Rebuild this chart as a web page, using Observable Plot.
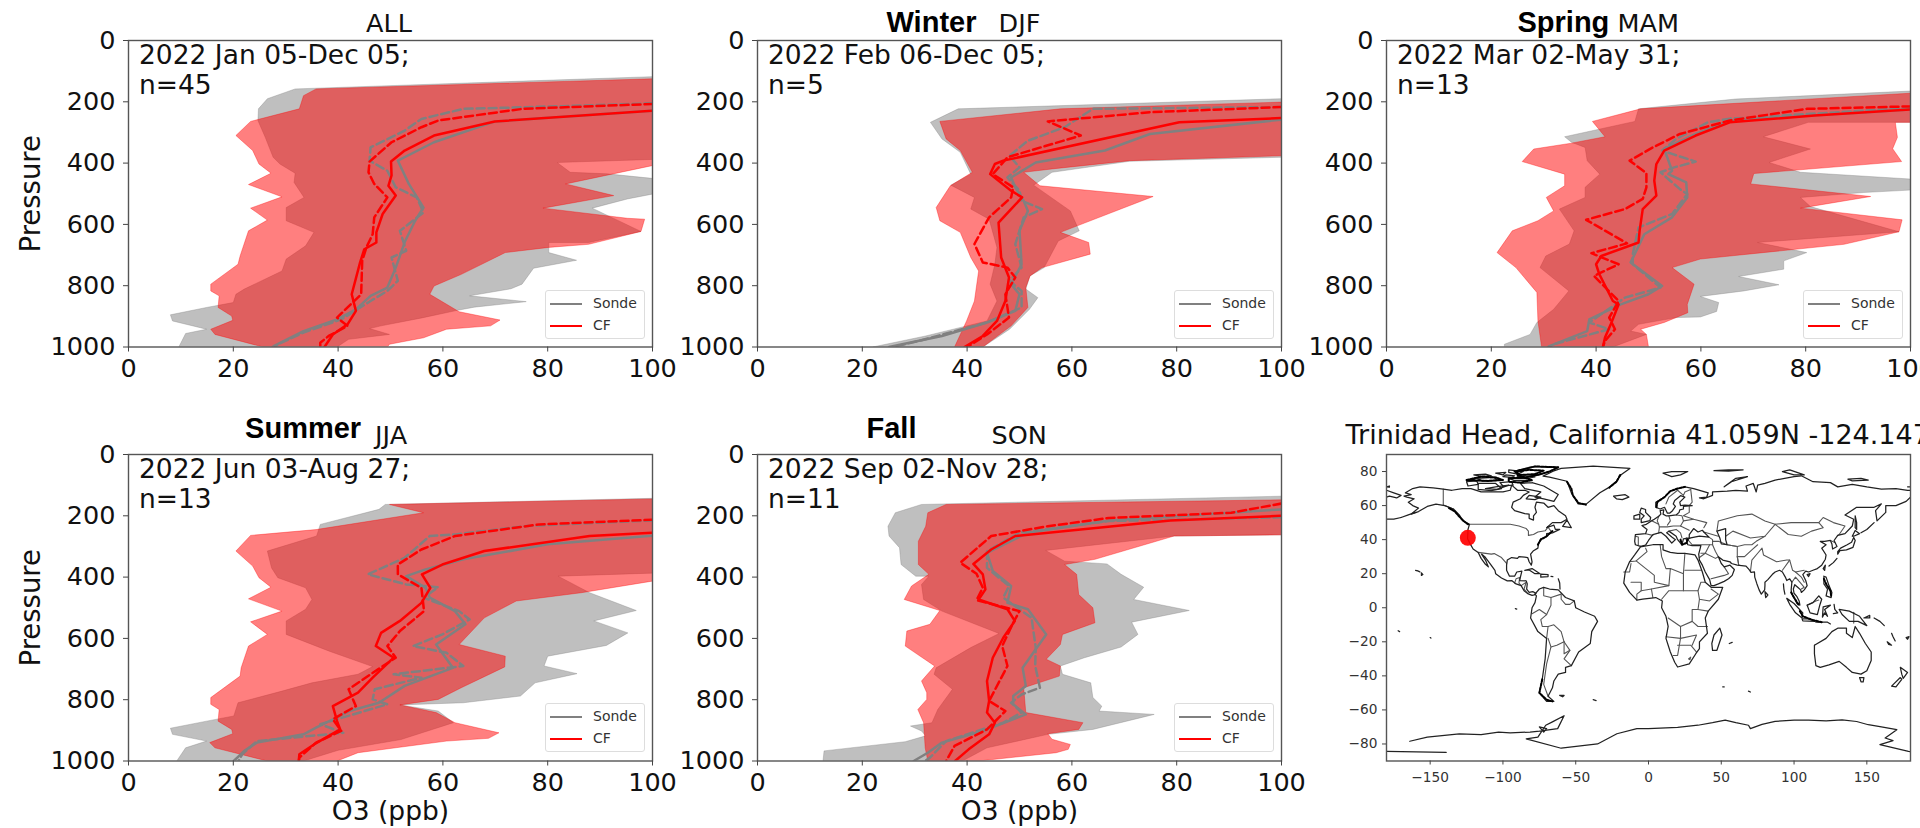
<!DOCTYPE html>
<html>
<head>
<meta charset="utf-8">
<script src="https://cdn.jsdelivr.net/npm/d3@7"></script>
<script src="https://cdn.jsdelivr.net/npm/@observablehq/plot@0.6"></script>
<style>
html,body{margin:0;padding:0;background:#fff;width:1920px;height:828px;overflow:hidden;color:#111}
#page{position:relative;width:1920px;height:828px;overflow:hidden;font-family:"DejaVu Sans",sans-serif}
#page svg{position:absolute;overflow:visible;background:transparent}
.legend{position:absolute;width:98px;height:47px;border:1px solid #ddd;border-radius:3px;background:rgba(255,255,255,.8);font-size:14px;color:#333}
.legend i{position:absolute;left:4px;width:32px;height:2px}
.legend span{position:absolute;left:47px}
</style>
</head>
<body>
<div id="page"></div>
<script>
const xTicks=[0,20,40,60,80,100], yTicks=[0,200,400,600,800,1000];
const seriesNames=["Sonde","CF"];

// ALL
const allSondeLeft=[[100,118],[31.8,158],[26.5,190],[24.8,223],[24.7,261],[26.1,316],[27.6,381],[28.9,403],[31.8,433],[31.6,463],[33.5,512],[30.1,545],[30.1,588],[35.4,626],[33.8,670],[30.1,713],[29.3,752],[22.1,811],[20.5,828],[20,855],[14.9,871],[8,895],[8.4,915],[14.9,942],[10.9,956],[9.6,1000]];
const allSondeRight=[[100,118],[100,388],[81.8,398],[84.3,430],[91.3,435],[100,450],[100,501],[95.2,517],[88.5,547],[97.8,623],[87.8,659],[80.2,659],[80.2,692],[85.5,717],[77.3,743],[75.1,795],[73,810],[65.1,833],[75.9,852],[66,870],[62.3,882],[56,905],[48.2,931],[46,940],[49.8,959],[42,975],[39.8,1000]];
const allCfLeft=[[100,125],[35.8,158],[33.4,180],[32.6,223],[23.3,264],[20.5,310],[23.7,359],[24.9,403],[27.2,433],[22.9,470],[29.3,510],[23.3,547],[26.5,586],[22.9,621],[21.3,703],[20.9,730],[15.7,795],[15.7,817],[17.3,833],[17.1,871],[19.7,899],[19.9,913],[15.7,942],[16.5,959],[25.7,1000]];
const allCfRight=[[100,125],[100,408],[83.4,468],[92.6,506],[79.1,547],[95.2,580],[98.5,583],[97.8,623],[87.8,665],[80.2,675],[71.9,692],[63.5,763],[58.3,801],[57.5,828],[63.1,885],[70.9,912],[69.1,931],[60.7,942],[56.3,970],[49.8,991],[49.4,1000]];
const allCfMean=[[100,229],[69.9,264],[58.3,310],[52.7,359],[50.1,395],[50.2,440],[49.6,474],[51,506],[48.5,566],[47.3,626],[47.3,659],[45,681],[44.2,724],[42.6,828],[43.4,882],[41.8,926],[39,959],[37.4,1000]];
const allCfMedian=[[100,207],[75.2,223],[59.1,261],[55.9,283],[50.2,332],[46,395],[45.8,430],[46.9,468],[49.4,512],[46.9,577],[46.6,632],[45.4,675],[44.6,719],[44.4,828],[39.8,904],[41.8,931],[38.2,964],[36.6,986],[36.6,1000]];
const allSondeMean=[[100,229],[70,264],[58.3,332],[51.4,392],[53.5,468],[56.3,545],[54.7,588],[52.8,654],[51,741],[49.4,806],[46.2,833],[43.4,877],[39.8,910],[33.4,948],[27.7,997],[27.5,1000]];
const allSondeMedian=[[100,205],[75,218],[63.9,223],[55.9,256],[52.7,294],[46.2,349],[46,392],[49.4,425],[51,479],[55,512],[56.3,561],[51.8,621],[53,686],[50.2,708],[51.4,784],[49.4,817],[46.2,850],[40.6,910],[33.4,953],[28.5,991],[28,1000]];

// Winter
const djfSondeLeft=[[100,190],[38.3,223],[33,267],[35.2,321],[38.7,365],[40.7,436],[36.9,472],[41.4,512],[40.7,550],[44.2,583],[45.7,675],[45.3,730],[44.4,795],[45.7,850],[43.8,915],[32.1,964],[22,1000]];
const djfSondeRight=[[100,190],[100,381],[71,394],[56.2,430],[52.7,472],[59.7,556],[61.4,621],[57.4,654],[54.7,741],[52,768],[51.2,811],[53.5,839],[51.9,877],[48.1,942],[43,1000]];
const djfCfLeft=[[100,201],[57.8,223],[34.8,264],[36,321],[38.7,359],[41,430],[36.8,474],[34.1,545],[34.8,588],[38.7,626],[40.7,708],[42.2,752],[41.4,850],[39.9,915],[37.6,1000]];
const djfCfRight=[[100,201],[100,376],[71,392],[56.2,419],[50.8,430],[53.9,474],[75.5,509],[57.8,626],[63.2,659],[63.5,697],[54.3,741],[52,768],[51.2,806],[51.6,871],[48.4,931],[43,1000]];
const djfCfMean=[[100,253],[80.5,267],[46.9,392],[45.3,403],[44.4,436],[48.4,490],[50.5,512],[48.4,550],[46,594],[46.5,708],[48,773],[47.3,850],[45.7,915],[43,964],[39.5,1000]];
const djfCfMedian=[[100,217],[74.9,234],[55.4,264],[61.7,310],[47.7,381],[44.9,436],[48.8,479],[48.4,512],[44.2,577],[41.4,664],[43,724],[47.7,741],[49.2,773],[47.3,828],[48,904],[43.8,959],[40.3,997],[40,1000]];
const djfSondeMean=[[100,258],[74.9,305],[66.3,359],[53.1,398],[48.4,447],[49.2,479],[50.8,523],[51.6,556],[50,621],[50.4,730],[48.4,795],[50,828],[49.2,882],[43.8,920],[35.2,964],[25.1,1000]];
const djfSondeMedian=[[100,217],[64,223],[58.6,283],[51.6,327],[48.1,376],[50,414],[47.7,447],[50,490],[50.4,523],[54.3,550],[50.8,577],[49.2,664],[50.4,741],[48.1,784],[50.4,817],[50.4,871],[43.8,920],[31.3,978],[25.9,1000]];

// Spring
const mamSondeLeft=[[100,165],[66.6,191],[48.1,223],[47.4,264],[34,314],[35.3,332],[37.9,349],[38.3,392],[40.7,436],[37.9,479],[37.9,512],[33,550],[35.8,621],[34.9,664],[30.4,703],[29.3,741],[34.8,817],[31.9,877],[28.7,920],[27.4,959],[22.5,991],[22.5,1000]];
const mamSondeRight=[[100,165],[100,267],[80.5,267],[71.9,314],[80.9,354],[73,398],[79,430],[100,452],[100,488],[91,496],[79,512],[80.9,542],[97.8,624],[70.8,659],[80.2,692],[75.8,719],[75.8,746],[67.2,770],[74.9,797],[68.2,817],[59.9,835],[63.4,855],[63,884],[59.9,902],[55.3,904],[48.1,926],[46.6,948],[49.6,959],[43.2,1000]];
const mamCfLeft=[[100,172],[48.5,223],[39.3,264],[41.7,314],[35.3,335],[28.1,354],[25.9,395],[34,436],[34,474],[30.5,512],[31.9,556],[28.9,588],[24,621],[21.1,692],[24.7,741],[28.7,822],[28.9,915],[29.6,1000]];
const mamCfRight=[[100,172],[100,267],[97.1,267],[97.5,316],[96.6,353],[98.3,395],[70.1,434],[69.5,468],[92.4,509],[79,547],[98.4,585],[97.8,624],[87.3,665],[59.9,713],[54.5,741],[58.7,795],[57.4,861],[57.5,888],[53,920],[48.5,942],[49.6,959],[50,1000]];
const mamCfMean=[[100,225],[81.7,245],[65.5,267],[59,310],[53,359],[51.5,403],[51.1,457],[51.5,506],[48.9,550],[48.3,621],[48.1,659],[41,703],[40,730],[40.6,762],[43.2,850],[44.3,861],[42.8,926],[41.7,969],[41.3,1000]];
const mamCfMedian=[[100,215],[80.2,223],[65.5,261],[56,305],[50.8,349],[46.4,392],[49.6,433],[49.6,479],[48.9,517],[45.5,550],[38.1,585],[45.9,662],[39.1,694],[44.3,730],[39.6,768],[44.3,850],[42.5,904],[43.6,942],[41.7,980],[41.3,1000]];
const mamSondeMean=[[100,225],[65.5,261],[59,305],[53,354],[54.5,425],[53.8,436],[57.2,463],[57.4,512],[54.5,577],[49.2,632],[46.6,724],[52.6,801],[50,828],[44.7,861],[38.7,910],[38.3,948],[31.1,997],[30.8,1000]];
const mamSondeMedian=[[100,220],[65.5,255],[61.3,267],[55.3,321],[52.6,359],[54.5,370],[59,395],[54.9,414],[52.3,430],[56,485],[57.4,501],[54.5,566],[48.1,610],[47,697],[47,730],[52.3,806],[45.5,839],[38.7,920],[42.5,942],[31.9,991],[31,1000]];

// Summer
const jjaSondeLeft=[[100,143],[49,163],[47.8,179],[36.6,228],[35.9,266],[26.5,315],[27.3,370],[28.5,402],[33.8,435],[35,473],[33.8,505],[30.1,543],[30.1,587],[38.2,641],[46.6,692],[43.8,717],[35,745],[29.3,772],[20.9,810],[20.1,853],[14.9,870],[8,893],[8.4,913],[14.9,935],[10.9,957],[9.2,1000]];
const jjaSondeRight=[[100,143],[100,387],[82,397],[88,451],[96.9,509],[88.8,543],[95.3,582],[91.2,623],[80,658],[79.3,690],[85.6,715],[77.6,745],[74.8,788],[63.9,810],[51.8,817],[59.1,837],[62,875],[52,930],[40,965],[33.4,1000]];
const jjaCfLeft=[[100,145],[49.8,163],[56.3,190],[35.8,245],[23.3,264],[20.5,315],[23.7,364],[24.9,402],[27.2,433],[22.9,471],[29.3,511],[23.3,546],[26.5,587],[22.9,625],[21.5,696],[21.3,723],[15.7,793],[15.7,815],[17.3,832],[17.1,870],[19.7,897],[19.9,911],[15.5,940],[16.5,957],[26.5,1000]];
const jjaCfRight=[[100,145],[100,413],[86.4,451],[74,478],[67.9,533],[63.1,620],[71.9,658],[71.8,693],[63.5,761],[59.1,799],[51.8,817],[58.7,842],[62.3,875],[70.7,908],[68.7,926],[60.7,935],[43.8,973],[39.8,1000]];
const jjaCfMean=[[100,255],[88,266],[67.9,315],[59.9,359],[56,391],[57.6,435],[55.9,484],[51.8,543],[48.2,582],[47.2,625],[50.6,663],[46.6,728],[43.8,777],[39,821],[39.8,870],[40.4,897],[35.4,946],[32.6,978],[32.5,1000]];
const jjaCfMedian=[[100,213],[78.4,228],[62.3,266],[55.9,310],[51.4,359],[51.4,391],[55.9,435],[56.4,511],[51.8,576],[49.4,625],[51,663],[46.2,717],[42,766],[43.4,821],[39,864],[40.6,902],[35.8,940],[32.6,989],[32.5,1000]];
const jjaSondeMean=[[100,265],[80,293],[63.9,342],[56.7,375],[53,397],[56.7,435],[57.5,467],[62.3,511],[64.3,554],[58.7,620],[61.9,696],[52.7,755],[47.8,810],[42.2,837],[35.8,891],[33.4,913],[24.5,940],[22.1,967],[20.1,1000]];
const jjaSondeMedian=[[100,215],[76,233],[62.3,261],[57.5,266],[52.7,337],[45.7,391],[53,424],[59.1,433],[56.3,467],[63.1,511],[65.1,538],[59.9,587],[54.3,625],[60.7,647],[63.9,690],[50.6,717],[55.9,728],[47,766],[46.6,799],[49.4,815],[36.6,880],[41,908],[24.5,935],[21.7,978],[21,1000]];

// Fall
const sonSondeLeft=[[100,136],[31.3,163],[26.3,190],[24.9,234],[25.1,266],[27.1,304],[27.4,359],[30.2,397],[32.7,397],[31.3,424],[31.7,473],[35.2,511],[46.1,584],[40.7,630],[34.1,696],[33.7,717],[37.2,766],[34.4,832],[33.3,875],[29.2,886],[31.3,902],[32.1,918],[28.2,937],[12.7,967],[12.5,1000]];
const sonSondeRight=[[100,136],[100,262],[79.5,266],[55,313],[58.6,348],[66.7,357],[69.4,391],[73.7,433],[71.8,473],[82.4,509],[71.4,547],[72.6,587],[69.4,628],[62.4,663],[57.8,690],[58.2,717],[63.6,745],[64,793],[65.7,821],[65.2,837],[75.7,848],[64,897],[55.4,913],[43.8,957],[39.1,1000]];
const sonCfLeft=[[100,148],[36,163],[32.5,190],[32.1,234],[30.7,283],[30.7,359],[32.7,391],[29.4,429],[28,473],[34.8,509],[32.9,554],[28.5,576],[28.2,625],[33.8,690],[31.3,739],[32.3,777],[32.3,799],[30.6,832],[31.7,875],[32,957],[32.5,1000]];
const sonCfRight=[[100,148],[100,262],[79.5,266],[64.4,342],[58.6,359],[60.9,391],[61.3,457],[64,500],[64.4,549],[58.2,587],[57.8,620],[55.1,668],[57.8,690],[57.6,723],[50.8,761],[51.2,842],[62.1,875],[61.3,897],[55.4,911],[56.2,929],[59.7,946],[59.3,962],[57,973],[42.2,1000]];
const sonCfMean=[[100,200],[78.8,215],[49.2,266],[44.6,310],[41.2,357],[43,391],[43.5,440],[42.2,473],[47.7,505],[49.1,543],[46.9,598],[44.9,663],[43.8,739],[44.2,804],[43.8,842],[45.3,875],[44.2,913],[40.3,962],[37.7,1000]];
const sonCfMedian=[[100,160],[90.4,190],[67.1,207],[55.4,234],[44.6,266],[38.7,353],[41.8,389],[43,435],[41.8,475],[50,511],[48.8,549],[46.7,625],[47.7,690],[44.2,804],[47.3,837],[43.8,897],[37.6,951],[36,1000]];
const sonSondeMean=[[100,179],[67.1,215],[51.6,255],[43.8,321],[44.9,380],[48.4,429],[47.7,484],[51.6,505],[55.1,587],[50.6,696],[51.2,755],[48.8,788],[48.8,815],[51.2,848],[43,902],[35.2,940],[32.5,973],[29.8,1000]];
const sonSondeMedian=[[100,205],[67.1,217],[50,255],[43.8,315],[43.8,370],[48,429],[46.9,467],[52.3,533],[53.1,630],[53,690],[53.9,761],[50.4,783],[48.4,810],[50.4,842],[46.9,875],[36,935],[32.9,989],[32,1000]];

// Map site
const siteLon=[-124.147], siteLat=[41.059];
const mapXTicks=[-150,-100,-50,0,50,100,150], mapYTicks=[-80,-60,-40,-20,0,20,40,60,80];

const coastNorthAmerica=[[-167,67.5],[-162,70],[-157,71],[-148,70.4],[-141,69.7],[-135,69],[-128,70],[-122,70],[-115,68],[-108,68],[-100,68],[-95,69],[-94,72],[-90,69],[-85,69],[-82,68],[-86,66],[-88,64],[-93,62],[-94,59],[-92,57],[-85,55.3],[-82,55],[-82,52.5],[-79,51.5],[-79,54],[-77,56],[-78,59],[-77,62],[-72,61.5],[-69,59],[-65,60],[-62,57],[-57,54],[-56,52],[-60,50],[-66,50],[-70,47],[-65,48.5],[-64,46],[-61,46],[-66,44],[-70,43.5],[-70,41.7],[-74,40.5],[-75.5,38],[-76,35],[-79,33.5],[-81,31.5],[-80,27],[-80.5,25],[-82,27],[-83,29.5],[-85,29.7],[-89,30],[-90,29],[-94,29.5],[-97,28],[-97.5,25],[-97.5,22],[-95.5,18.5],[-92,18.5],[-90.5,21],[-87,21.5],[-88,18],[-88.5,16],[-84,15.8],[-83.3,14],[-83.7,11],[-82,9],[-79.5,9.5],[-77.3,8.5],[-78.5,7.5],[-80,7.3],[-83,8.3],[-85.5,10],[-87.5,13],[-91,14],[-94,16],[-97,15.8],[-101,17.5],[-105,20],[-105.5,22],[-109,26],[-112.5,30],[-114.7,31.5],[-112,28],[-110,24],[-112,25.5],[-115,29],[-117,32.5],[-120.5,34.5],[-122.5,37.5],[-124.3,40.5],[-124,46],[-123,49],[-127.5,51],[-130,54.5],[-134,58],[-140,60],[-146,60.8],[-152,59.5],[-158,56.5],[-163,55],[-158,58.5],[-162,60],[-165,62],[-161,64],[-166,65],[-168,65.6],[-163,66.5],[-167,67.5]];
const coastBaffin=[[-80,73.5],[-72,71.5],[-67,69],[-62,66.5],[-65,62.5],[-72,64],[-78,65],[-74,68],[-85,70],[-88,73],[-80,73.5]];
const coastVictoria=[[-117,73],[-105,73],[-101,70],[-108,68.8],[-117,69.5],[-117,73]];
const coastBanks=[[-125,74],[-118,74.5],[-117,72.5],[-124,71.5],[-125,74]];
const coastEllesmere=[[-90,80.5],[-78,83],[-62,82.5],[-68,80],[-76,78],[-85,76.5],[-90,78],[-90,80.5]];
const coastDevon=[[-96,76],[-82,75.8],[-80,74.6],[-92,74.6],[-96,76]];
const coastMelville=[[-118,76],[-106,76.5],[-104,75],[-114,74.5],[-118,76]];
const coastAxel=[[-96,81],[-86,80],[-90,78.5],[-96,79.5],[-96,81]];
const coastPrinceWales=[[-102,73.5],[-94,74],[-93,72],[-100,71.5],[-102,73.5]];
const coastSomerset=[[-98,78],[-92,77.5],[-94,76.5],[-100,77],[-98,78]];
const coastArctic1=[[-125,75],[-115,77],[-105,76.5],[-100,75],[-110,74.5],[-125,75]];
const coastArctic2=[[-105,79],[-98,79.5],[-100,78],[-105,79]];
const coastArctic3=[[-90,77],[-82,76.2],[-78,76.8],[-85,77.5],[-90,77]];
const coastArctic4=[[-112,70],[-105,71],[-96,72],[-104,69.5],[-112,70]];
const coastArctic5=[[-82,66],[-74,65],[-78,63.5],[-84,64],[-82,66]];
const coastArctic6=[[-120,78],[-112,78.5],[-108,77.5],[-116,77.3],[-120,78]];
const coastGreenland=[[-72.4,77.3],[-65.5,80.2],[-60,81.8],[-38,83.2],[-12.8,81.8],[-18.6,78.3],[-22,74.3],[-27.7,70.4],[-33.4,67.5],[-42.6,61],[-48.3,61],[-53,67.5],[-56,74.3],[-68,76.7],[-72.4,77.3]];
const coastNewfoundland=[[-59,47.8],[-56,51.5],[-53,47],[-59,47.8]];
const coastCuba=[[-85,22],[-80,23],[-74.5,20],[-78,20],[-82,22.2],[-85,22]];
const coastHispaniola=[[-74,19.8],[-69,19.5],[-69,18.3],[-74,18],[-74,19.8]];
const coastPuertoRico=[[-67,18.4],[-65.7,18.3]];
const coastAntilles=[[-62,17],[-61,14.5],[-60.8,11]];
const coastAleutian1=[[-180,52],[-175,52],[-170,53]];
const coastAleutian2=[[-170,53],[-165,54.5],[-160,56]];
const coastSouthAmerica=[[-78,8],[-75,11],[-72,12],[-68,11],[-62,10.5],[-57,6],[-51,4],[-50,0],[-44,-2.5],[-37,-5],[-35,-8],[-39,-14],[-40,-21],[-48,-26],[-53,-34],[-57,-35],[-57,-38],[-62,-39],[-65,-43],[-66,-47],[-69,-52],[-65,-55],[-70,-55],[-75,-50],[-73,-42],[-71,-30],[-70,-18],[-76,-14],[-81,-6],[-80,0],[-78,3],[-77,7],[-78,8]];
const coastFalkland=[[-61,-51.5],[-58,-51.5],[-59,-52.3],[-61,-51.5]];
const coastAfrica=[[-5.5,35.8],[3,37],[10,37],[10,34],[15,32.5],[20,32],[25,32],[32,31],[34,28],[37,21],[39,15],[43,12],[51,12],[48,5],[41,-2],[39,-6],[40.5,-15],[35,-20],[35,-24],[32.5,-27],[28,-33],[20,-34.8],[18,-32],[15,-26],[12,-18],[13.5,-11],[12,-5],[9,0],[9.5,4],[5,6],[-4,5],[-8,4.5],[-13,9],[-17,14.5],[-16,21],[-13,27],[-9.5,31],[-5.5,35.8]];
const coastMadagascar=[[49,-12],[50.5,-16],[47,-25],[44,-25],[43.5,-21],[45,-16],[49,-12]];
const coastEurasia=[[-5.5,36],[-9,37],[-9.5,39],[-9,43],[-2,43.5],[-1,46],[-4.5,48.3],[-1.5,49],[2,51],[4,52],[7,53.7],[8.5,55],[8,57],[10.5,57.5],[10,55],[12,54],[14,54],[19,54.5],[21,56],[21.5,57.5],[24,58],[24,59.5],[30,60],[25,60.2],[22,60],[21.5,62],[25,65],[22,65.8],[18,63],[17,61],[18.5,59.5],[16.5,57],[14.5,55.5],[13,55.5],[11,59],[8,58],[5,59],[5,62],[11,65],[15,68.5],[20,70],[25,71],[31,70],[41,67.5],[40,65],[35,64.5],[38,64],[44,66],[44,68],[54,68.5],[60,69],[68,68.5],[67,71.5],[72,73],[74,68],[75,72],[80,73],[87,75],[100,77],[105,77.5],[113,74],[125,73.5],[130,71],[140,72.5],[150,71],[160,69.7],[170,70],[178,69],[180,69]];
const coastEurasiaEast=[[180,65],[177,62.5],[170,60],[163,60],[163,56],[157,51],[156,57],[160,61],[155,59],[143,59],[135,54.5],[141,52],[140,48],[135,43.5],[130,42.5],[127.5,39.5],[129.5,36],[126.5,34.5],[126,37.5],[125,39.5],[121,39],[118,39],[122,37],[119,35],[122,31],[121.5,28.5],[119,25],[116,23],[113,22],[110,21],[108,21.5],[106,19.5],[108,16],[109,13],[107,10.5],[105,9],[104.5,10.5],[102.5,12],[100.5,13.5],[99.5,11],[100,8.5],[102,6.5],[103.5,4],[104,1.5],[102,2.5],[100.5,5],[98.5,8],[98,10.5],[98.5,15],[97,17],[95,16],[94,18],[92,21],[90,22],[87,21],[85,19.5],[82,16.5],[80,15],[80,13],[79.8,10.5],[77.5,8],[76,10.5],[74.5,14],[73,18],[72.8,21],[70.5,20.8],[69,22.5],[67,24.5],[61,25],[57,26],[56,27],[51,28],[48,30],[50,26],[52,24],[56,25],[59,22.5],[57.5,19],[55,17],[52,15.5],[48,14],[45,13],[43,13],[42,16.5],[39,21],[37,25],[35,28],[34.5,31.5],[36,36.5],[30,36.5],[27,37],[26,40],[29,41],[35,42],[41.5,41.5],[38,44.5],[37,45.5],[34,44.5],[31,46.5],[28,43],[28,41],[24,40.5],[23,37],[20,40],[19,42],[14,45],[12.5,44],[16,41.5],[18.5,40],[16,38],[12,42],[8.5,44.3],[3,43],[0,39.5],[-2,36.8],[-5.5,36]];
const coastChukotka=[[-180,69],[-175,67.5],[-170,66],[-173,64.5],[-178,65.5],[-180,65]];
const coastCaspian=[[47,45],[53,46.5],[53,40],[54,37],[50,37.5],[49,41],[47,45]];
const coastBritain=[[-5,50],[1,51.2],[1.5,53],[-2,56],[-2,57.7],[-5,58.5],[-6,56],[-3,54],[-5,52],[-5,50]];
const coastIreland=[[-10,52],[-6,52],[-6,55],[-10,54],[-10,52]];
const coastIceland=[[-24,65.5],[-16,66.4],[-13.5,65],[-18,63.5],[-22,64],[-24,65.5]];
const coastSvalbard=[[10,79],[16,80],[27,80],[22,78],[16,77],[10,79]];
const coastFranzJosef=[[45,80.5],[55,81],[65,81],[55,80.2],[45,80.5]];
const coastNovaya=[[52,71],[57,74],[68,77],[60,76],[55,73],[52,71]];
const coastSevernaya=[[92,80],[97,81],[107,78],[100,78],[92,80]];
const coastNewSiberia=[[137,75.5],[146,76],[151,75],[140,74.5],[137,75.5]];
const coastWrangel=[[-180,71],[-178,71.5],[-178,70.8],[-180,71]];
const coastWrangelEast=[[178,71],[180,71]];
const coastSakhalin=[[142,54],[143,50],[143,46],[142,47],[142,54]];
const coastKuril=[[146,44],[150,46],[155,50]];
const coastJapan=[[130,31.5],[131.5,33.5],[136,34],[140.5,35.5],[142,39.5],[141,41.3],[139.5,38.5],[136.5,37],[132,35],[130,33],[130,31.5]];
const coastHokkaido=[[140,42],[142,45.4],[145,43.5],[141,42],[140,42]];
const coastRyukyu=[[124,24.5],[127,26.5],[129.5,29]];
const coastTaiwan=[[120,23],[121.5,25],[121,22],[120,23]];
const coastHainan=[[109,19.5],[111,20],[110,18.3],[109,19.5]];
const coastSriLanka=[[80,9.5],[82,7.5],[80.5,6],[80,9.5]];
const coastAndaman=[[92.7,14],[93,11],[93.7,8]];
const coastSumatra=[[95,5.5],[100,2.5],[106,-3],[105.5,-6],[101,-3],[97,2],[95,5.5]];
const coastJava=[[105.5,-6.5],[111,-6.5],[114.5,-8],[106,-7.7],[105.5,-6.5]];
const coastLesser=[[115,-8.5],[119,-8.5],[123,-8.5],[125,-9.5]];
const coastBorneo=[[109,1.5],[113,3],[117,7],[119,5],[117.5,1],[116,-4],[111,-3],[109,1.5]];
const coastSulawesi=[[119.5,-5.5],[120,0.5],[125,1.5],[121,-1],[123,-5],[121,-3],[119.5,-5.5]];
const coastMoluccas=[[127.5,2],[128,-1],[130,-3],[127,-3.5]];
const coastPhilippines=[[120.5,18.5],[122,18],[124,13],[126,9],[125.5,6],[122,7],[123,11],[120.5,14],[120.5,18.5]];
const coastNewGuinea=[[131,-1],[138,-2],[145,-5],[150,-10.5],[144,-8],[138,-8],[133,-4],[131,-1]];
const coastNewBritain=[[148,-6],[152,-4.5],[152,-6],[148,-6]];
const coastSolomon=[[155,-6],[159,-8],[162,-10.5]];
const coastVanuatu=[[167,-15],[168,-17],[169.5,-19.5]];
const coastFiji=[[177,-17.5],[179,-17],[178,-18.5],[177,-17.5]];
const coastAustralia=[[114,-22],[122,-18],[126,-14],[130,-12],[136,-12],[136,-15],[140,-17.5],[142,-11],[145,-15],[149,-21],[153,-26],[153,-31],[150,-37],[146,-39],[140,-38],[136,-35],[131,-31.5],[124,-33.5],[118,-35],[115,-34],[114,-27],[114,-22]];
const coastTasmania=[[145,-41],[148,-41],[147.5,-43.5],[146,-43.5],[145,-41]];
const coastNZNorth=[[173,-35],[178,-38],[175,-41.5],[174,-39],[173,-35]];
const coastNZSouth=[[173,-41],[174,-42],[170,-46.5],[167,-46],[173,-41]];
const coastNewCaledonia=[[164,-20],[167,-22],[165,-21.5],[164,-20]];
const coastHawaii=[[-156,20.5],[-155,19.5],[-156,19],[-156,20.5]];
const coastHawaiiWest=[[-160,22],[-158,21.5],[-157,21],[-159,21.8],[-160,22]];
const coastTahiti=[[-150,-17.5],[-149.5,-17.8]];
const coastSamoa=[[-172,-13.5],[-171,-14]];
const coastGalapagos=[[-91.5,-0.5],[-90.5,-0.8]];
const coastMascarene=[[55.5,-21],[57.5,-20.3]];
const coastKerguelen=[[68.7,-49],[70,-49.5]];
const coastCrozet=[[51,-46.4],[52,-46.5]];
const coastAntarcticaEdge=[[-180,-84.3],[-139,-85]];
const coastAntarctica=[[-164,-78.4],[-152,-76],[-130,-74],[-115,-74.5],[-103,-73],[-95,-73.5],[-81.4,-73],[-75,-72.5],[-62.4,-71],[-58,-63.4],[-66,-67],[-70.6,-69],[-76,-76],[-84,-77],[-60,-82.5],[-35,-80],[-21.7,-74],[-8,-71],[0,-71],[20,-70.2],[34,-69],[44,-67.5],[52.7,-66],[60,-67.5],[68.7,-69],[70,-71],[78,-68.5],[87,-66.7],[100,-66],[110,-66],[122,-66.5],[133,-65.8],[143,-66.8],[151,-68.7],[160,-70],[170.6,-71.6],[162.6,-76.5],[168,-78],[159,-80.4],[178.6,-84.4],[180,-84.5]];
const coastAlexander=[[-75,-70],[-70,-71],[-72,-73],[-75,-70]];
const coastSouthGeorgia=[[-38,-54],[-36,-54.5],[-38,-54]];

// coasts that read as dense ink in the picture (fjords, archipelagos)
const denseBC=[[-137,58.5],[-133,56.5],[-130,53.5],[-127,51],[-124,49]];
const denseGreenlandW=[[-56,74],[-53,70],[-52,66],[-48,61.5],[-43,60.5]];
const denseGreenlandE=[[-19.5,78],[-22,74],[-27,70.5]];
const denseNorway=[[5.5,59],[6,62],[11,65],[15,68.5],[20,70],[25,71]];
const denseChile=[[-73,-42],[-75,-50],[-70,-54],[-66,-55]];
const denseUSEast=[[-76,37],[-74,40],[-70,42],[-66,45]];
const denseAegean=[[22,40],[23,37],[26,38],[27,40]];
const denseArctic=[[-96,76],[-86,76.5],[-80,75],[-88,73.5],[-96,74],[-96,76]];
const denseArctic2=[[-92,80],[-82,81],[-72,80.5],[-78,78.5],[-88,78],[-92,80]];
const denseSEAsia=[[104,-2],[106,-5],[112,-7],[119,-8.5]];
const densePhilippines=[[120.5,17],[122,14],[125,10],[125.5,7]];
const denseMalaya=[[98,9],[100,6],[103,2]];

const borderAlaska=[[-141,69.7],[-141,60.3],[-137,59],[-134,58]];
const borderCanadaUS=[[-123,49],[-95,49],[-89,48],[-84,46.5],[-82.5,45],[-82.5,42.5],[-79,43],[-76,44.5],[-71,45.2],[-69,47.3],[-67,45]];
const borderMexico=[[-117,32.5],[-108,31.5],[-106,31.8],[-101,29.5],[-97.5,26]];
const borderCentralAm=[[-92,14.5],[-91,17],[-88.5,17.8],[-89,14.5],[-87.5,13],[-84,15],[-85.5,11],[-83,8.5]];
const borderSA1=[[-72,12],[-72,7],[-67,6],[-67,1.5],[-70,-4],[-74,-7],[-73,-11],[-69,-11],[-65,-10],[-60,-14],[-58,-20],[-54,-25],[-58,-30],[-53,-34]];
const borderSA2=[[-80,-3.5],[-75,-1],[-70,-4]];
const borderSA3=[[-70,-18],[-69,-11]];
const borderSA4=[[-69,-18],[-67,-23],[-70,-33],[-72,-45],[-69,-52]];
const borderSA5=[[-67,-23],[-63,-22],[-58,-20]];
const borderSA6=[[-58,-20],[-58,-27],[-54,-25]];
const borderSA7=[[-67,6],[-60,8],[-60,5],[-57,2],[-54,2],[-51,4]];
const borderAfrica1=[[-13,27],[-8.5,27.5],[-1,33],[-2,35]];
const borderAfrica2=[[-17,21],[-13,21],[-12,26]];
const borderAfrica3=[[-8.5,27.5],[4,19],[4,15],[14,13],[15,23],[24,20],[25,32]];
const borderAfrica4=[[8,37],[9,30],[12,23],[15,23]];
const borderAfrica5=[[25,22],[36,22]];
const borderAfrica6=[[24,20],[24,10],[14,10],[9,5]];
const borderAfrica7=[[24,10],[34,10],[36,15],[39,15]];
const borderAfrica8=[[34,10],[35,5],[42,4],[48,8],[43,11]];
const borderAfrica9=[[35,5],[34,-1],[41,-2]];
const borderAfrica10=[[34,-1],[30,-1],[30,-8],[34,-11],[40.5,-11]];
const borderAfrica11=[[30,-8],[22,-11],[13.5,-6]];
const borderAfrica12=[[22,-11],[22,-18],[12,-17]];
const borderAfrica13=[[22,-18],[20,-28],[17,-28]];
const borderAfrica14=[[20,-22],[29,-22],[33,-26]];
const borderAfrica15=[[22,-18],[33,-16],[30,-22]];
const borderAfrica16=[[-12,15],[-5,15],[-5,10],[-8,8],[-8,4.5]];
const borderAfrica17=[[-5,10],[2,11],[3,6]];
const borderAfrica18=[[2,11],[14,13]];
const borderLesotho=[[27.5,-30],[29,-29],[28.5,-30.5],[27.5,-30]];
const borderEurope1=[[-2,43.5],[3,42.5]];
const borderEurope2=[[2.5,51],[7,49],[7.5,47.5],[7,44]];
const borderEurope3=[[7,53.7],[6,51],[7,49]];
const borderEurope4=[[7.5,47.5],[13,47.5],[17,48],[22,48],[28,45.5]];
const borderEurope5=[[14,54],[15,51],[13,48.5]];
const borderEurope6=[[19,54.5],[23,54],[24,51],[22,48]];
const borderEurope7=[[28,59.5],[28,56],[24,54],[31,52],[40,50],[38,47]];
const borderEurope8=[[24,51],[31,52]];
const borderEurope9=[[29,69.5],[30,62],[28,60]];
const borderEurope10=[[14,45],[19,46],[22,44],[23,41]];
const borderEurope11=[[20,69],[24,66],[25,68],[29,69.5]];
const borderNorway=[[12,61],[14,65],[20,69]];
const borderSpain=[[-9,42],[-7,41.5],[-7,37]];
const borderTurkey=[[26,41],[30,37],[44,37],[44,40],[41.5,41.5]];
const borderMiddleEast=[[36,32],[39,32],[42,37]];
const borderArabia=[[35,29.5],[39,32],[46,29],[48,30]];
const borderYemen=[[43,17],[52,19],[55,20],[52,24]];
const borderIran=[[44,39],[48,39],[54,37],[61,36],[61,30],[62,25]];
const borderIraq=[[44,37],[46,33],[48,30]];
const borderKazakh=[[47,45],[48,51],[61,54],[71,55],[80,51],[87,49],[80,42],[70,41],[58,45],[53,42]];
const borderCentralAsia=[[54,37],[61,36],[66,37],[71,37],[74,39],[80,42]];
const borderAfghan=[[61,30],[66,30],[71,34],[75,37]];
const borderPakistan=[[62,25],[61,30]];
const borderIndia=[[70,21],[71,28],[75,32],[78,35],[79,31],[88,27],[95,28],[97,28],[92,22]];
const borderChinaRussia=[[87,49],[98,50],[107,50],[117,50],[120,53],[127,50],[135,48],[131,43],[130,42.5]];
const borderMongolia=[[87,49],[96,43],[105,42],[112,45],[120,47],[117,50]];
const borderSEAsia=[[97,28],[99,22],[101,21],[107,22]];
const borderSEAsia2=[[98.5,15],[101,18],[105,14],[107,12],[105,11]];
const borderSEAsia3=[[101,21],[105,18],[107,15]];
const borderKorea=[[125,39.5],[128,38.3]];
const borderRussiaCaucasus=[[38,44.5],[48,42]];
const borderPNG=[[141,-2.6],[141,-9]];
const borderBorneo=[[109,1.5],[115,4],[117,4.5]];

const coasts=[coastNorthAmerica,coastBaffin,coastVictoria,coastBanks,coastEllesmere,coastDevon,coastMelville,coastAxel,coastPrinceWales,coastSomerset,coastArctic1,coastArctic2,coastArctic3,coastArctic4,coastArctic5,coastArctic6,coastGreenland,coastNewfoundland,coastCuba,coastHispaniola,coastPuertoRico,coastAntilles,coastAleutian1,coastAleutian2,coastSouthAmerica,coastFalkland,coastAfrica,coastMadagascar,coastEurasia,coastEurasiaEast,coastChukotka,coastCaspian,coastBritain,coastIreland,coastIceland,coastSvalbard,coastFranzJosef,coastNovaya,coastSevernaya,coastNewSiberia,coastWrangel,coastWrangelEast,coastSakhalin,coastKuril,coastJapan,coastHokkaido,coastRyukyu,coastTaiwan,coastHainan,coastSriLanka,coastAndaman,coastSumatra,coastJava,coastLesser,coastBorneo,coastSulawesi,coastMoluccas,coastPhilippines,coastNewGuinea,coastNewBritain,coastSolomon,coastVanuatu,coastFiji,coastAustralia,coastTasmania,coastNZNorth,coastNZSouth,coastNewCaledonia,coastHawaii,coastHawaiiWest,coastTahiti,coastSamoa,coastGalapagos,coastMascarene,coastKerguelen,coastCrozet,coastAntarcticaEdge,coastAntarctica,coastAlexander,coastSouthGeorgia];
const denseCoasts=[denseBC,denseGreenlandW,denseGreenlandE,denseNorway,denseChile,denseUSEast,denseAegean,denseArctic,denseArctic2,denseSEAsia,densePhilippines,denseMalaya,coastArctic1,coastEllesmere];
const borders=[borderAlaska,borderCanadaUS,borderMexico,borderCentralAm,borderSA1,borderSA2,borderSA3,borderSA4,borderSA5,borderSA6,borderSA7,borderAfrica1,borderAfrica2,borderAfrica3,borderAfrica4,borderAfrica5,borderAfrica6,borderAfrica7,borderAfrica8,borderAfrica9,borderAfrica10,borderAfrica11,borderAfrica12,borderAfrica13,borderAfrica14,borderAfrica15,borderAfrica16,borderAfrica17,borderAfrica18,borderLesotho,borderEurope1,borderEurope2,borderEurope3,borderEurope4,borderEurope5,borderEurope6,borderEurope7,borderEurope8,borderEurope9,borderEurope10,borderEurope11,borderNorway,borderSpain,borderTurkey,borderMiddleEast,borderArabia,borderYemen,borderIran,borderIraq,borderKazakh,borderCentralAsia,borderAfghan,borderPakistan,borderIndia,borderChinaRussia,borderMongolia,borderSEAsia,borderSEAsia2,borderSEAsia3,borderKorea,borderRussiaCaucasus,borderPNG,borderBorneo];

// ---------- drawing ----------
const page=document.getElementById("page");
const FW=524, FH=306.5, mL=100, mR=30, mT=40, mB=62;
const DJ="DejaVu Sans", LB="Liberation Sans";
const TICK=25.5, ANNOT=26.5, TITLE=25.5, BOLD=29;

function place(svg,left,top){svg.style.left=(left-mL)+"px";svg.style.top=(top-mT)+"px";page.appendChild(svg);}
function band(pts,color,op){return Plot.line(pts,{fill:color,fillOpacity:op,stroke:color,strokeOpacity:.35,strokeWidth:1,clip:true});}
function ln(pts,color,dash){return Plot.line(pts,{stroke:color,strokeWidth:2.5,strokeDasharray:dash?"8,4":null,clip:true});}
function label(t,o){return Plot.text([t],Object.assign({text:d=>d,frameAnchor:"top-left",textAnchor:"start",lineAnchor:"bottom",fontFamily:DJ,fontSize:ANNOT,fill:"#111"},o));}

function panel(p){
  const marks=[
    band(p.sL.concat(p.sR.slice().reverse()),"#808080",.5),
    band(p.cL.concat(p.cR.slice().reverse()),"#ff0000",.5),
    ln(p.sMed,"#808080",true),ln(p.sMean,"#808080",false),
    ln(p.cMed,"#ff0000",true),ln(p.cMean,"#ff0000",false),
    Plot.frame({stroke:"#555",strokeWidth:1.4}),
    Plot.axisX({ticks:xTicks,tickSize:5,tickPadding:7,fontSize:TICK,label:null,fontFamily:DJ,stroke:"#444",tickFormat:d=>String(d)}),
    Plot.axisY({ticks:yTicks,tickSize:5,tickPadding:8,fontSize:TICK,label:null,fontFamily:DJ,stroke:"#444",tickFormat:d=>String(d)}),
    label(p.line1,{dx:10.5,dy:23}),
    label(p.line2,{dx:10.5,dy:53}),
  ].concat(p.titles.map(t=>label(t.text,{dx:t.x-p.left,dy:t.y-p.top,fontFamily:t.bold?LB:DJ,fontWeight:t.bold?"bold":"normal",fontSize:t.bold?BOLD:TITLE,fill:t.bold?"#000":"#111"})));
  if(p.pressure) marks.push(Plot.text(["Pressure"],{text:d=>d,frameAnchor:"left",textAnchor:"middle",rotate:-90,dx:-97,fontFamily:DJ,fontSize:ANNOT+1,fill:"#111"}));
  if(p.xlabel) marks.push(Plot.text(["O3 (ppb)"],{text:d=>d,frameAnchor:"bottom",textAnchor:"middle",lineAnchor:"bottom",dy:59,fontFamily:DJ,fontSize:ANNOT,fill:"#111"}));
  const svg=Plot.plot({width:FW+mL+mR,height:FH+mT+mB,marginLeft:mL,marginRight:mR,marginTop:mT,marginBottom:mB,
    style:{background:"transparent",overflow:"visible"},
    x:{domain:[0,100]},y:{domain:[1000,0]},marks});
  place(svg,p.left,p.top);
  const lg=document.createElement("div");lg.className="legend";
  lg.style.left=Math.round(p.left+FW-107)+"px";lg.style.top=Math.round(p.top+FH-57)+"px";
  lg.innerHTML=`<i style="top:12px;background:#808080"></i><span style="top:4px">${seriesNames[0]}</span><i style="top:34px;background:#ff0000"></i><span style="top:26px">${seriesNames[1]}</span>`;
  page.appendChild(lg);
}

const R1=40, R2=453.5, C1=128.4, C2=757, C3=1386;
panel({left:C1,top:R1,sL:allSondeLeft,sR:allSondeRight,cL:allCfLeft,cR:allCfRight,sMean:allSondeMean,sMed:allSondeMedian,cMean:allCfMean,cMed:allCfMedian,
  line1:"2022 Jan 05-Dec 05;",line2:"n=45",pressure:true,titles:[{text:"ALL",x:366,y:31}]});
panel({left:C2,top:R1,sL:djfSondeLeft,sR:djfSondeRight,cL:djfCfLeft,cR:djfCfRight,sMean:djfSondeMean,sMed:djfSondeMedian,cMean:djfCfMean,cMed:djfCfMedian,
  line1:"2022 Feb 06-Dec 05;",line2:"n=5",titles:[{text:"Winter",x:886,y:31,bold:true},{text:"DJF",x:998,y:31}]});
panel({left:C3,top:R1,sL:mamSondeLeft,sR:mamSondeRight,cL:mamCfLeft,cR:mamCfRight,sMean:mamSondeMean,sMed:mamSondeMedian,cMean:mamCfMean,cMed:mamCfMedian,
  line1:"2022 Mar 02-May 31;",line2:"n=13",titles:[{text:"Spring",x:1517,y:31,bold:true},{text:"MAM",x:1617,y:31}]});
panel({left:C1,top:R2,sL:jjaSondeLeft,sR:jjaSondeRight,cL:jjaCfLeft,cR:jjaCfRight,sMean:jjaSondeMean,sMed:jjaSondeMedian,cMean:jjaCfMean,cMed:jjaCfMedian,
  line1:"2022 Jun 03-Aug 27;",line2:"n=13",pressure:true,xlabel:true,titles:[{text:"Summer",x:245,y:437,bold:true},{text:"JJA",x:375,y:443}]});
panel({left:C2,top:R2,sL:sonSondeLeft,sR:sonSondeRight,cL:sonCfLeft,cR:sonCfRight,sMean:sonSondeMean,sMed:sonSondeMedian,cMean:sonCfMean,cMed:sonCfMedian,
  line1:"2022 Sep 02-Nov 28;",line2:"n=11",xlabel:true,titles:[{text:"Fall",x:866,y:437,bold:true},{text:"SON",x:991,y:443}]});

// map
(function(){
  const marks=[
    ...borders.map(b=>Plot.line(b,{stroke:"#555",strokeWidth:1.1,clip:true})),
    ...coasts.map(c=>Plot.line(c,{stroke:"#222",strokeWidth:1.25,clip:true})),
    ...denseCoasts.map(c=>Plot.line(c,{stroke:"#000",strokeWidth:2,strokeDasharray:"2.5,1.5",clip:true})),
    Plot.dot(siteLon.map((d,i)=>[d,siteLat[i]]),{r:8,fill:"#ff0000",fillOpacity:.92,clip:true}),
    Plot.frame({stroke:"#555",strokeWidth:1.4}),
    Plot.axisX({ticks:mapXTicks,tickSize:4,tickPadding:7,fontSize:13.7,label:null,fontFamily:DJ,stroke:"#444",fill:"#333"}),
    Plot.axisY({ticks:mapYTicks,tickSize:4,tickPadding:5,fontSize:13.7,label:null,fontFamily:DJ,stroke:"#444",fill:"#333"}),
    label("Trinidad Head, California 41.059N -124.147",{dx:1345-C3,dy:443-R2,fontSize:27}),
  ];
  const svg=Plot.plot({width:FW+mL+mR,height:FH+mT+mB,marginLeft:mL,marginRight:mR,marginTop:mT,marginBottom:mB,
    style:{background:"transparent",overflow:"visible"},
    x:{domain:[-180,180]},y:{domain:[-90,90]},marks});
  place(svg,C3,R2);
})();
</script>
</body>
</html>
